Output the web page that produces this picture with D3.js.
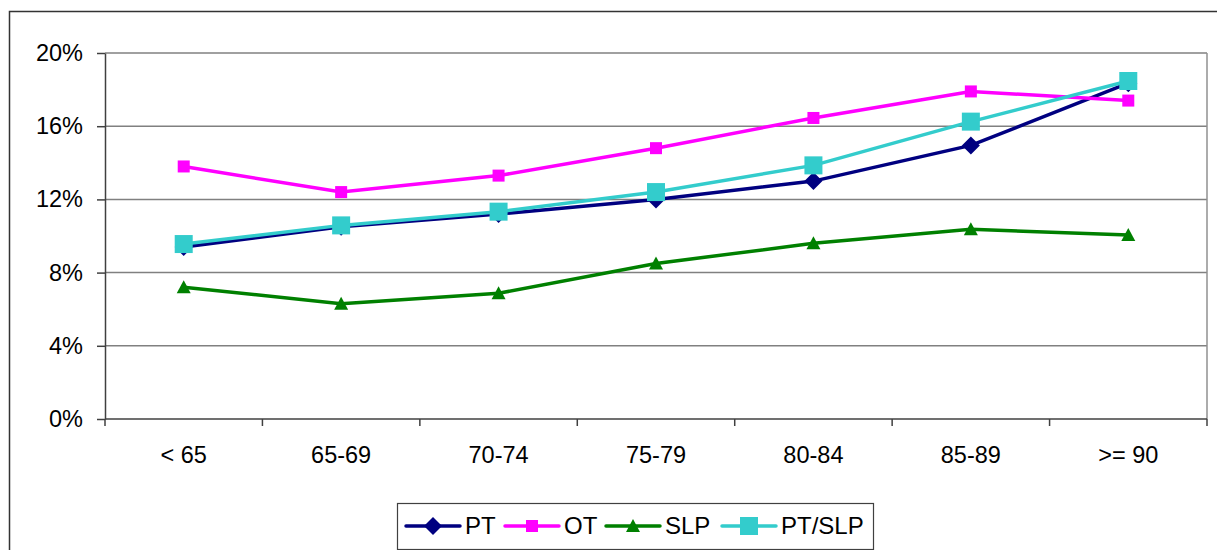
<!DOCTYPE html>
<html>
<head>
<meta charset="utf-8">
<script src="https://cdn.jsdelivr.net/npm/d3@7"></script>
<style>
  html, body { margin: 0; padding: 0; background: #fff; }
  svg { display: block; font-family: 'Liberation Sans', Arial, sans-serif; }
</style>
</head>
<body>
<div id="chart"></div>
<script>
const categories = ['< 65', '65-69', '70-74', '75-79', '80-84', '85-89', '>= 90'];
const ptValues    = [9.4, 10.5, 11.2, 12.0, 13.0, 14.95, 18.35];
const otValues    = [13.8, 12.4, 13.3, 14.8, 16.45, 17.9, 17.4];
const slpValues   = [7.2, 6.3, 6.87, 8.5, 9.6, 10.37, 10.05];
const ptSlpValues = [9.56, 10.58, 11.33, 12.4, 13.86, 16.25, 18.47];
const yTicks = [0, 4, 8, 12, 16, 20];

const series = [
  { name: 'PT', values: ptValues, color: '#000080', marker: 'diamond' },
  { name: 'OT', values: otValues, color: '#FF00FF', marker: 'smallSquare' },
  { name: 'SLP', values: slpValues, color: '#008000', marker: 'triangle' },
  { name: 'PT/SLP', values: ptSlpValues, color: '#33CCCC', marker: 'bigSquare' }
];

const W = 1217, H = 550;
const plotL = 105, plotR = 1207, plotT = 53, plotB = 419;

const svg = d3.select('#chart').append('svg').attr('width', W).attr('height', H);

// outer chart border
svg.append('rect')
  .attr('x', 9.5).attr('y', 11.5).attr('width', 1230).attr('height', 560)
  .attr('fill', 'none').attr('stroke', '#333').attr('stroke-width', 1.5);

const x = d3.scaleBand().domain(categories).range([plotL, plotR]);
const y = d3.scaleLinear().domain([0, 20]).range([plotB, plotT]);

// grid
svg.append('g').selectAll('line')
  .data(yTicks.filter(d => d > 0)).enter().append('line')
  .attr('x1', plotL).attr('x2', plotR)
  .attr('y1', d => y(d)).attr('y2', d => y(d))
  .attr('stroke', '#808080').attr('stroke-width', 1.5);

// right edge of plot area
svg.append('line')
  .attr('x1', plotR).attr('x2', plotR).attr('y1', plotT).attr('y2', plotB)
  .attr('stroke', '#909090').attr('stroke-width', 1.5);

// y axis
const yAxis = svg.append('g').attr('transform', `translate(${plotL},0)`)
  .call(d3.axisLeft(y).tickValues(yTicks).tickFormat(d => d + '%').tickSize(8).tickSizeOuter(0).tickPadding(14));
yAxis.selectAll('line, path').attr('stroke', '#404040').attr('stroke-width', 1.5);
yAxis.selectAll('text').attr('fill', '#000').attr('font-size', '23.5px')
  .attr('font-family', "'Liberation Sans', Arial, sans-serif");

// x axis: ticks at band boundaries
const xAxis = svg.append('g').attr('transform', `translate(0,${plotB})`);
xAxis.append('line').attr('x1', plotL).attr('x2', plotR)
  .attr('stroke', '#404040').attr('stroke-width', 1.5);
xAxis.selectAll('.tk')
  .data(categories.concat(['end'])).enter().append('line')
  .attr('x1', (d, i) => plotL + i * x.step()).attr('x2', (d, i) => plotL + i * x.step())
  .attr('y1', 0).attr('y2', 7)
  .attr('stroke', '#404040').attr('stroke-width', 1.5);
xAxis.selectAll('text')
  .data(categories).enter().append('text')
  .attr('x', d => x(d) + x.bandwidth() / 2)
  .attr('y', 44)
  .attr('text-anchor', 'middle')
  .attr('font-size', '23.5px')
  .text(d => d);

// marker drawer
function drawMarker(sel, type, color) {
  if (type === 'diamond') {
    sel.append('path').attr('d', 'M0,-9L9,0L0,9L-9,0Z').attr('fill', color);
  } else if (type === 'smallSquare') {
    sel.append('rect').attr('x', -6).attr('y', -6).attr('width', 12).attr('height', 12).attr('fill', color);
  } else if (type === 'triangle') {
    sel.append('path').attr('d', 'M0,-7L7,6L-7,6Z').attr('fill', color);
  } else {
    sel.append('rect').attr('x', -9).attr('y', -9).attr('width', 18).attr('height', 18).attr('fill', color);
  }
}

const line = d3.line()
  .x((d, i) => x(categories[i]) + x.bandwidth() / 2)
  .y(d => y(d));

series.forEach(s => {
  const g = svg.append('g');
  g.append('path').datum(s.values)
    .attr('fill', 'none').attr('stroke', s.color).attr('stroke-width', 3.5)
    .attr('d', line);
  g.selectAll('.m').data(s.values).enter().append('g')
    .attr('transform', (d, i) => `translate(${x(categories[i]) + x.bandwidth() / 2},${y(d)})`)
    .each(function() { drawMarker(d3.select(this), s.marker, s.color); });
});

// legend
const legend = svg.append('g');
legend.append('rect')
  .attr('x', 397.5).attr('y', 503.5).attr('width', 476).attr('height', 46)
  .attr('fill', '#fff').attr('stroke', '#404040').attr('stroke-width', 1.2);
const legendX = [406, 505, 606, 722];
series.forEach((s, i) => {
  const g = legend.append('g').attr('transform', `translate(${legendX[i]},526)`);
  g.append('line').attr('x1', 0).attr('x2', 54).attr('y1', 0).attr('y2', 0)
    .attr('stroke', s.color).attr('stroke-width', 3.5).attr('stroke-linecap', 'round');
  const m = g.append('g').attr('transform', 'translate(27,0)');
  drawMarker(m, s.marker, s.color);
  g.append('text').attr('x', 59).attr('y', 8).attr('font-size', '24px').text(s.name);
});
</script>
</body>
</html>
